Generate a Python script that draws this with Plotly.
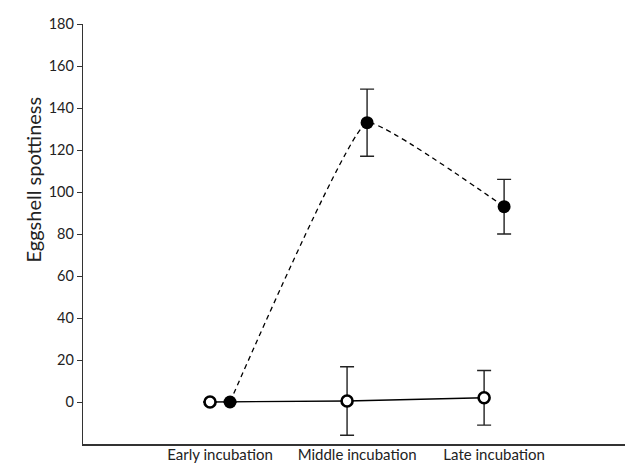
import plotly.graph_objects as go

categories = ["Early incubation", "Middle incubation", "Late incubation"]
filled_values = [0, 133, 93]
filled_err = [0, 16, 13]
open_values = [0, 0.5, 2]
open_err = [0, 16.3, 13]
y_ticks = [0, 20, 40, 60, 80, 100, 120, 140, 160, 180]

pos = [i + 1 for i in range(len(categories))]
offset = 0.073
x_open = [p - offset for p in pos]
x_filled = [p + offset for p in pos]

FONT = "Lato, Calibri, Carlito, Liberation Sans, sans-serif"

fig = go.Figure()
fig.add_trace(go.Scatter(
    x=x_open, y=open_values, mode="lines+markers",
    line=dict(color="black", width=1.4),
    marker=dict(symbol="circle", size=11, color="white", line=dict(color="black", width=2.6)),
    error_y=dict(type="data", array=open_err, visible=True, color="#222", thickness=1.4, width=7),
    showlegend=False, cliponaxis=False,
))
fig.add_trace(go.Scatter(
    x=x_filled, y=filled_values, mode="lines+markers",
    line=dict(color="black", width=1.3, dash="5px,4px", shape="spline", smoothing=0.3),
    marker=dict(symbol="circle", size=13, color="black", line=dict(color="black", width=0)),
    error_y=dict(type="data", array=filled_err, visible=True, color="#222", thickness=1.4, width=7),
    showlegend=False, cliponaxis=False,
))

fig.update_layout(
    width=633, height=463,
    margin=dict(l=75, r=3, t=16, b=27),
    paper_bgcolor="white", plot_bgcolor="white",
    font=dict(family=FONT, size=14, color="#222"),
    xaxis=dict(
        range=[0, 4.05], tickmode="array", tickvals=pos, ticktext=categories,
        showline=True, linecolor="#333", linewidth=1.5, showgrid=False, zeroline=False,
        ticks="", tickfont=dict(size=15, family=FONT), ticklabelstandoff=-4,
    ),
    yaxis=dict(
        range=[-20, 180], tickmode="array", tickvals=y_ticks,
        showline=True, linecolor="#333", linewidth=1.3, showgrid=False, zeroline=False,
        ticks="outside", ticklen=5, tickcolor="#333", tickfont=dict(size=14.5, family=FONT),
    ),
)
fig.add_annotation(
    text="Eggshell spottiness", textangle=-90, xref="paper", yref="paper",
    x=-0.09, y=0.63, xanchor="center", yanchor="middle", showarrow=False,
    font=dict(size=20, family=FONT, color="#222"),
)
fig.write_html("out.html")
